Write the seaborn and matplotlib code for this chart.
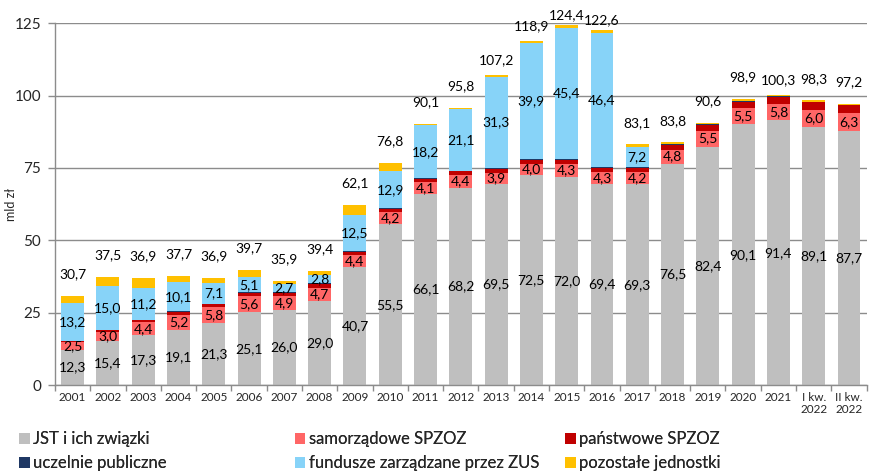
import matplotlib
matplotlib.use("Agg")
import matplotlib.pyplot as plt
import seaborn as sns
import numpy as np

# kategorie (lata / kwartały)
okresy = [str(r) for r in range(2001, 2022)] + ["I kw.\n2022", "II kw.\n2022"]

# wartości w mld zł
jst = [12.3, 15.4, 17.3, 19.1, 21.3, 25.1, 26.0, 29.0, 40.7, 55.5, 66.1, 68.2,
       69.5, 72.5, 72.0, 69.4, 69.3, 76.5, 82.4, 90.1, 91.4, 89.1, 87.7]
samorzadowe = [2.5, 3.0, 4.4, 5.2, 5.8, 5.6, 4.9, 4.7, 4.4, 4.2, 4.1, 4.4,
               3.9, 4.0, 4.3, 4.3, 4.2, 4.8, 5.5, 5.5, 5.8, 6.0, 6.3]
panstwowe = [0.3, 0.5, 0.7, 1.0, 0.8, 1.2, 1.0, 1.2, 0.9, 1.0, 1.0, 1.2,
             1.2, 1.3, 1.4, 1.4, 1.5, 1.6, 1.9, 2.0, 2.3, 2.5, 2.6]
uczelnie = [0.1, 0.2, 0.1, 0.2, 0.2, 0.2, 0.3, 0.3, 0.2, 0.3, 0.3, 0.3,
            0.4, 0.3, 0.3, 0.2, 0.2, 0.2, 0.2, 0.4, 0.2, 0.2, 0.2]
zus = [13.2, 15.0, 11.2, 10.1, 7.1, 5.1, 2.7, 2.8, 12.5, 12.9, 18.2, 21.1,
       31.3, 39.9, 45.4, 46.4, 7.2, 0, 0, 0, 0, 0, 0]
razem = [30.7, 37.5, 36.9, 37.7, 36.9, 39.7, 35.9, 39.4, 62.1, 76.8, 90.1, 95.8,
         107.2, 118.9, 124.4, 122.6, 83.1, 83.8, 90.6, 98.9, 100.3, 98.3, 97.2]

nazwy = ["JST i ich związki", "samorządowe SPZOZ", "państwowe SPZOZ",
         "uczelnie publiczne", "fundusze zarządzane przez ZUS", "pozostałe jednostki"]
kolory = ["#BFBFBF", "#FF6666", "#C00000", "#1F3864", "#87D3F8", "#FFC000"]


def fmt(v):
    return f"{v:.1f}".replace(".", ",")


def main():
    sns.set_theme(style="white")
    plt.rcParams["font.family"] = ["Lato", "DejaVu Sans"]

    pozostale = [r - (a + b + c + d + e) for r, a, b, c, d, e in
                 zip(razem, jst, samorzadowe, panstwowe, uczelnie, zus)]
    serie = [jst, samorzadowe, panstwowe, uczelnie, zus, pozostale]
    z_etykieta = [True, True, False, False, True, False]

    fig = plt.figure(figsize=(8.69, 4.72), dpi=100)
    ax = fig.add_axes([0.0633, 0.184, 0.934, 0.767])

    dol = np.zeros(len(okresy))
    for wart, nazwa, kol, etyk in zip(serie, nazwy, kolory, z_etykieta):
        wart = np.array(wart, dtype=float)
        sns.barplot(x=okresy, y=wart, bottom=dol, color=kol, width=0.65,
                    saturation=1, ax=ax, label=nazwa, zorder=3, linewidth=0)
        if etyk:
            cont = ax.containers[-1]
            labels = [fmt(v) if v > 0 else "" for v in wart]
            ax.bar_label(cont, labels=labels, label_type="center",
                         fontsize=10, color="black", zorder=5)
        dol = dol + wart

    # sumy nad słupkami
    for i, t in enumerate(razem):
        if t > 120:
            off = 3.5
        elif t > 100:
            off = 5
        else:
            off = 7.5
        ax.text(i, t + off, fmt(t), ha="center", va="center", fontsize=10,
                color="black", clip_on=False)

    ax.set_ylim(0, 125)
    ax.set_xlim(-0.5, len(okresy) - 0.5)
    ax.set_yticks([0, 25, 50, 75, 100, 125])
    ax.yaxis.grid(True, color="#8C8C8C", linewidth=1, zorder=0)
    ax.set_ylabel("mld zł", fontsize=9)
    ax.yaxis.set_label_coords(-0.047, 0.5)
    ax.tick_params(axis="y", labelsize=11, length=5, width=1,
                   color="#8C8C8C", pad=5, left=True)
    ax.tick_params(axis="x", labelsize=8.5, length=0, pad=5)
    for lab in ax.get_xticklabels():
        lab.set_linespacing(1.1)
        lab.set_verticalalignment("top")

    # znaczniki między kategoriami
    ax.set_xticks(np.arange(-0.5, len(okresy)), minor=True)
    ax.tick_params(axis="x", which="minor", length=4, color="#8C8C8C",
                   direction="out", width=1, bottom=True)

    for s in ["top", "right"]:
        ax.spines[s].set_visible(False)
    for s in ["bottom", "left"]:
        ax.spines[s].set_color("#8C8C8C")
        ax.spines[s].set_linewidth(1)
        ax.spines[s].set_zorder(4)

    handles, labs = ax.get_legend_handles_labels()
    if ax.get_legend() is not None:
        ax.get_legend().remove()

    # legenda: trzy kolumny po dwa wpisy
    kol_x = [0.022, 0.339, 0.650]
    for j, x in enumerate(kol_x):
        idx = [j, j + 3]
        leg = fig.legend([handles[k] for k in idx], [labs[k] for k in idx],
                         loc="center left", bbox_to_anchor=(x, 0.044),
                         ncol=1, frameon=False, fontsize=12, handlelength=0.65,
                         handleheight=0.65, handletextpad=0.2, labelspacing=0.45,
                         borderpad=0, borderaxespad=0)
        fig.add_artist(leg)

    fig.savefig("out.png", dpi=100)


if __name__ == "__main__":
    main()
